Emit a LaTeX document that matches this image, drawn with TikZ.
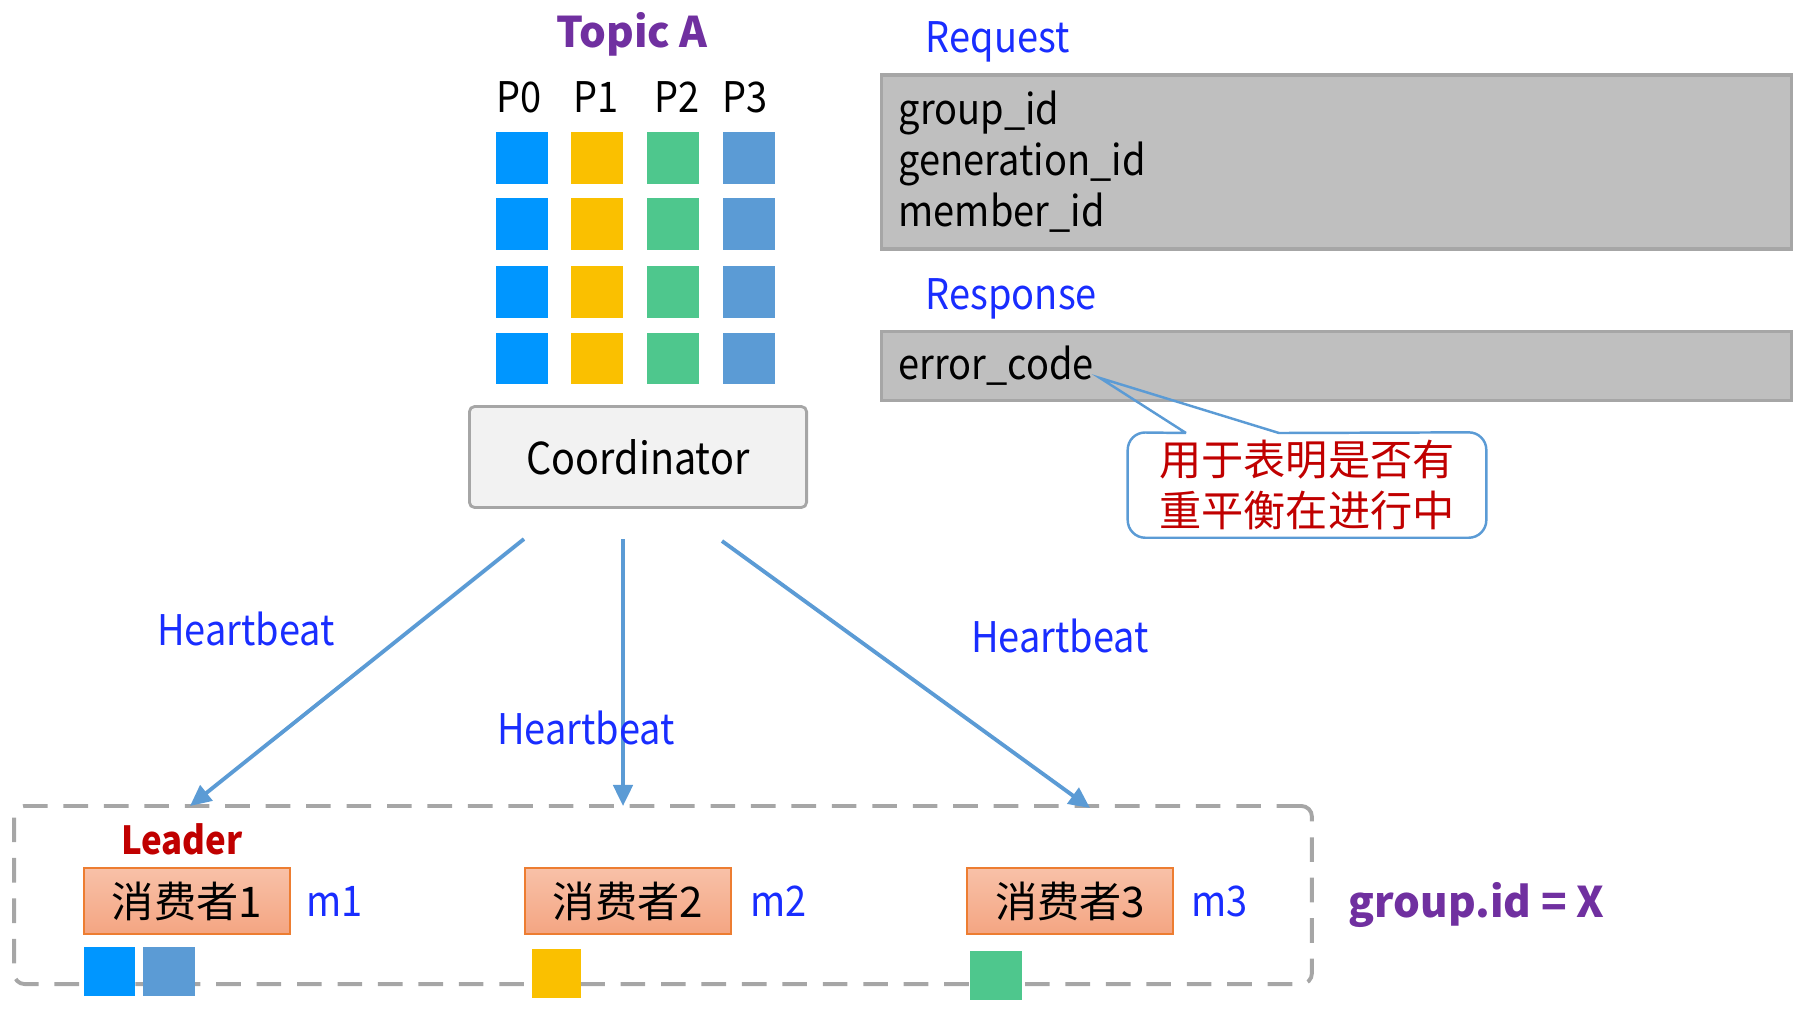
\documentclass[tikz,border=0pt]{standalone}
\usepackage{fontspec}
\setmainfont{Noto Sans CJK SC}
\newfontfamily\narrowfont{Noto Sans CJK SC}[FakeStretch=0.9]
\usetikzlibrary{positioning,arrows.meta}
\definecolor{partA}{RGB}{0,150,255}
\definecolor{partB}{RGB}{250,192,0}
\definecolor{partC}{RGB}{78,199,141}
\definecolor{partD}{RGB}{91,155,213}
\definecolor{topicpurple}{RGB}{112,48,160}
\definecolor{labelblue}{RGB}{25,45,255}
\definecolor{leaderred}{RGB}{192,0,0}
\definecolor{boxgray}{RGB}{191,191,191}
\definecolor{edgegray}{RGB}{166,166,166}
\definecolor{coordfill}{RGB}{242,242,242}
\definecolor{consfilltop}{RGB}{248,193,168}
\definecolor{consfillbot}{RGB}{244,165,130}
\definecolor{consedge}{RGB}{237,125,49}

\begin{document}
\begin{tikzpicture}[x=0.01cm, y=-0.01cm,
  every node/.style={font=\fontsize{12}{14.5}\selectfont},
  part/.style={minimum width=0.51cm, minimum height=0.51cm, inner sep=0pt},
  plain/.style={inner sep=0pt, font=\narrowfont\fontsize{12}{14.5}\selectfont},
  bluetxt/.style={plain, text=labelblue},
  graybox/.style={draw=edgegray, fill=boxgray, line width=0.9pt, minimum width=9.09cm,
    inner xsep=0.17cm, text width=8.75cm, align=left, font=\narrowfont\fontsize{12}{14.5}\selectfont},
  consumer/.style={draw=consedge, top color=consfilltop, bottom color=consfillbot,
    line width=0.7pt, minimum width=2.06cm, minimum height=0.66cm, inner sep=0pt},
  hb/.style={-{Triangle[length=6pt,width=5.5pt]}, draw=partD, line width=1.1pt}]
  \useasboundingbox (0,0) rectangle (1806,1008);

  % topic A and its partitions
  \node[plain, text=topicpurple, font=\bfseries\fontsize{12}{15}\selectfont, anchor=base] (topic) at (632,47) {Topic A};
  \foreach \name/\x/\lx/\col in {P0/522/519/partA, P1/597/596/partB, P2/673/677/partC, P3/749/745/partD} {
    \node[plain, anchor=base] (\name) at (\lx,112) {\name};
    \foreach \r/\y in {1/158, 2/224, 3/292, 4/358}
      \node[part, fill=\col] (\name-\r) at (\x,\y) {};
  }
  \node[draw=edgegray, fill=coordfill, rounded corners=1.5pt, line width=0.8pt, minimum width=3.37cm,
    minimum height=1.01cm, font=\narrowfont\fontsize{12.5}{15}\selectfont] (coord) at (638,457) {Coordinator};

  % request / response
  \node[bluetxt, anchor=base west] (reqlbl) at (925,52) {Request};
  \node[graybox, minimum height=1.74cm] (req) at (1336.5,162) {group\_id\\generation\_id\\member\_id};
  \node[bluetxt, anchor=base west] (resplbl) at (925,309) {Response};
  \node[graybox, minimum height=0.69cm] (resp) at (1336.5,366) {error\_code};

  % note on error_code
  \node[inner sep=0pt, text=leaderred, align=center, minimum width=3.57cm, minimum height=1.04cm] (note) at (1307,485) {用于表明是否有\\重平衡在进行中};
  \coordinate (tip) at (1100,378);
  \coordinate (pl) at (1186,433);
  \coordinate (pr) at (1279,433);
  \draw[draw=partD, line width=0.7pt] (pl) -- (tip) -- (pr) [rounded corners=5pt] -- (note.north east)
    -- (note.south east) -- (note.south west) -- (note.north west) -- (pl);

  % consumer group
  \node[draw=edgegray, dash pattern=on 7pt off 4.5pt, line width=1.1pt, rounded corners=3pt,
    minimum width=12.97cm, minimum height=1.78cm] (grp) at (663,895) {};
  \node[consumer] (c1) at (187,901) {消费者1};
  \node[consumer] (c2) at (628,901) {消费者2};
  \node[consumer] (c3) at (1070,901) {消费者3};
  \node[bluetxt, right=0.14cm of c1] (m1) {m1};
  \node[bluetxt, right=0.17cm of c2] (m2) {m2};
  \node[bluetxt, right=0.16cm of c3] (m3) {m3};
  \node[plain, text=leaderred, font=\narrowfont\bfseries\fontsize{11}{14}\selectfont, above=0.11cm of c1, xshift=-0.05cm] (leader) {Leader};
  \node[plain, text=topicpurple, font=\bfseries\fontsize{12}{15}\selectfont, anchor=base west] (gid) at (1348,917) {group.id = X};

  % partitions owned by each consumer
  \node[part, fill=partA, minimum height=0.49cm] (own1a) at (109.5,971.5) {};
  \node[part, fill=partD, minimum height=0.49cm] (own1b) at (169,971.5) {};
  \node[part, fill=partB, minimum width=0.49cm, minimum height=0.49cm] (own2) at (556.5,973.5) {};
  \node[part, fill=partC, minimum height=0.49cm] (own3) at (996,975.5) {};

  % heartbeats
  \coordinate (s1) at (524,539);
  \coordinate (e1) at (190,806);
  \coordinate (s2) at (623,539);
  \coordinate (e2) at (623,806);
  \coordinate (s3) at (722,541);
  \coordinate (e3) at (1090,808);
  \draw[hb] (s1) -- (e1);
  \draw[hb] (s2) -- (e2);
  \draw[hb] (s3) -- (e3);
  \node[bluetxt] (hb1) at (246,629) {Heartbeat};
  \node[bluetxt] (hb2) at (586,728) {Heartbeat};
  \node[bluetxt] (hb3) at (1060,636) {Heartbeat};
\end{tikzpicture}
\end{document}
